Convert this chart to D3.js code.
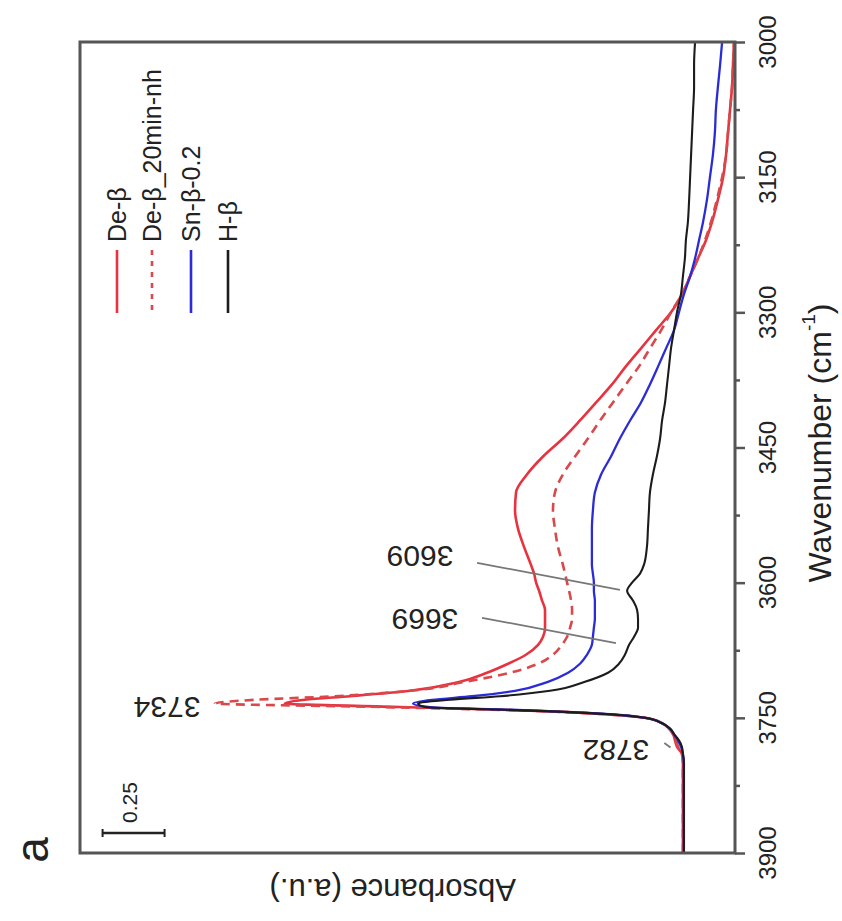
<!DOCTYPE html>
<html>
<head>
<meta charset="utf-8">
<script src="https://cdn.jsdelivr.net/npm/d3@7"></script>
<style>
  body { margin: 0; background: #fff; }
  text { font-family: "Liberation Sans", Arial, sans-serif; fill: #222; }
</style>
</head>
<body>
<div id="chart"></div>
<script>
// wavenumber grid (cm-1), shared by all four spectra
let wavenumbers = [
  3900, 3850, 3800, 3790, 3782, 3775, 3768, 3762, 3756, 3750,
  3746, 3742, 3738, 3734, 3730, 3726, 3720, 3710, 3700, 3690,
  3680, 3669, 3660, 3650, 3640, 3630, 3620, 3609, 3600, 3590,
  3580, 3560, 3540, 3520, 3500, 3480, 3460, 3440, 3420, 3400,
  3380, 3360, 3340, 3320, 3300, 3280, 3260, 3240, 3220, 3200,
  3175, 3150, 3125, 3100, 3075, 3050, 3025, 3000
];

// absorbance (a.u.)
let deBeta = [
  0.210, 0.210, 0.210, 0.214, 0.234, 0.242, 0.250, 0.266, 0.294, 0.363,
  0.524, 0.827, 1.351, 1.815, 1.734, 1.552, 1.310, 1.109, 1.000, 0.915,
  0.843, 0.794, 0.774, 0.766, 0.766, 0.766, 0.778, 0.790, 0.802, 0.810,
  0.823, 0.851, 0.875, 0.887, 0.883, 0.839, 0.774, 0.694, 0.625, 0.560,
  0.496, 0.440, 0.379, 0.319, 0.258, 0.214, 0.181, 0.149, 0.117, 0.093,
  0.069, 0.048, 0.036, 0.028, 0.020, 0.012, 0.008, 0.004
];

let deBeta20 = [
  0.210, 0.210, 0.210, 0.214, 0.230, 0.238, 0.250, 0.266, 0.294, 0.363,
  0.524, 0.847, 1.431, 2.097, 1.935, 1.613, 1.310, 1.089, 0.907, 0.794,
  0.734, 0.698, 0.677, 0.665, 0.657, 0.657, 0.661, 0.669, 0.677, 0.685,
  0.694, 0.714, 0.726, 0.734, 0.726, 0.694, 0.645, 0.593, 0.544, 0.492,
  0.440, 0.387, 0.343, 0.298, 0.258, 0.214, 0.181, 0.149, 0.121, 0.097,
  0.073, 0.052, 0.036, 0.028, 0.020, 0.012, 0.008, 0.004
];

let snBeta = [
  0.206, 0.206, 0.206, 0.210, 0.218, 0.230, 0.246, 0.262, 0.294, 0.363,
  0.504, 0.806, 1.230, 1.298, 1.222, 1.060, 0.887, 0.754, 0.673, 0.625,
  0.597, 0.577, 0.573, 0.569, 0.565, 0.565, 0.565, 0.569, 0.569, 0.573,
  0.577, 0.577, 0.577, 0.573, 0.565, 0.540, 0.500, 0.464, 0.423, 0.379,
  0.343, 0.310, 0.278, 0.246, 0.226, 0.206, 0.181, 0.161, 0.145, 0.129,
  0.113, 0.101, 0.089, 0.081, 0.077, 0.069, 0.060, 0.052
];

let hBeta = [
  0.206, 0.206, 0.206, 0.210, 0.214, 0.226, 0.246, 0.262, 0.294, 0.363,
  0.504, 0.827, 1.250, 1.278, 1.149, 0.948, 0.746, 0.605, 0.512, 0.468,
  0.444, 0.427, 0.407, 0.391, 0.391, 0.395, 0.411, 0.435, 0.415, 0.383,
  0.367, 0.355, 0.351, 0.347, 0.343, 0.331, 0.315, 0.302, 0.294, 0.282,
  0.274, 0.266, 0.258, 0.246, 0.234, 0.218, 0.210, 0.202, 0.198, 0.190,
  0.185, 0.181, 0.177, 0.173, 0.169, 0.165, 0.165, 0.161
];

let seriesNames = ["De-β", "De-β_20min-nh", "Sn-β-0.2", "H-β"];
let majorTicks  = [3900, 3750, 3600, 3450, 3300, 3150, 3000];
let minorTicks  = [3825, 3675, 3525, 3375, 3225, 3075];
let peakNames   = ["3734", "3669", "3609", "3782"];
let scaleBarSize = 0.25;

let margin = {top: 42, right: 107, bottom: 68, left: 80},
    width  = 842 - margin.left - margin.right,
    height = 921 - margin.top - margin.bottom;

let series = [
  {name: seriesNames[0], values: deBeta,   color: "#e8323f", dash: null,  width: 2.6},
  {name: seriesNames[1], values: deBeta20, color: "#d9484a", dash: "9,6", width: 2.6},
  {name: seriesNames[2], values: snBeta,   color: "#2b2bd8", dash: null,  width: 2.3},
  {name: seriesNames[3], values: hBeta,    color: "#1c1c1c", dash: null,  width: 2.1}
];

// absorbance runs right -> left, wavenumber bottom -> top (figure is turned on its side)
let x = d3.scaleLinear().domain([0, 2.641]).range([width, 0]);
let y = d3.scaleLinear().domain([3900, 3000]).range([height, 0]);

let svg =
  d3.select("#chart")
    .append("svg")
      .attr("width", 842)
      .attr("height", 921)
    .append("g")
      .attr("transform", translate(margin.left, margin.top));

// spectra
let line =
  d3.line()
    .x(function(d) { return x(d.a); })
    .y(function(d) { return y(d.w); })
    .curve(d3.curveMonotoneY);

svg.selectAll(".spectrum")
    .data(series)
    .enter()
  .append("path")
    .attr("class", "spectrum")
    .attr("fill", "none")
    .attr("stroke", function(d) { return d.color; })
    .attr("stroke-width", function(d) { return d.width; })
    .attr("stroke-dasharray", function(d) { return d.dash; })
    .attr("stroke-linejoin", "round")
    .attr("d", function(d) {
      return line(wavenumbers.map(function(w, i) { return {w: w, a: d.values[i]}; }));
    });

// frame
svg.append("rect")
    .attr("width", width)
    .attr("height", height)
    .attr("fill", "none")
    .attr("stroke", "#555")
    .attr("stroke-width", 3);

// wavenumber axis on the right
let axisMajor = d3.axisRight(y).tickValues(majorTicks).tickSize(10).tickSizeOuter(0).tickFormat("");
let axisMinor = d3.axisRight(y).tickValues(minorTicks).tickSize(5).tickSizeOuter(0).tickFormat("");

[axisMajor, axisMinor].forEach(function(ax) {
  let g = svg.append("g")
      .attr("transform", translate(width, 0))
      .call(ax);
  g.select(".domain").remove();
  g.selectAll("line").attr("stroke", "#555").attr("stroke-width", 2.5);
});

svg.selectAll(".tick-label")
    .data(majorTicks)
    .enter()
  .append("text")
    .attr("class", "tick-label")
    .attr("transform", function(d) { return translate(width + 32, y(d)) + " rotate(-90)"; })
    .attr("text-anchor", "middle")
    .attr("dominant-baseline", "central")
    .style("font-size", "24px")
    .text(function(d) { return d; });

// axis titles
let xTitle = svg.append("text")
    .attr("transform", translate(width + 85, y(3445)) + " rotate(-90)")
    .attr("text-anchor", "middle")
    .attr("dominant-baseline", "central")
    .style("font-size", "32px");
xTitle.append("tspan").text("Wavenumber (cm");
xTitle.append("tspan").attr("dy", -12).style("font-size", "19px").text("-1");
xTitle.append("tspan").attr("dy", 12).text(")");

svg.append("text")
    .attr("transform", translate(x(1.38), height + 36) + " rotate(180)")
    .attr("text-anchor", "middle")
    .attr("dominant-baseline", "central")
    .style("font-size", "31px")
    .text("Absorbance (a.u.)");

// panel letter
svg.append("text")
    .attr("transform", translate(-48, height - 3) + " rotate(-90)")
    .attr("text-anchor", "middle")
    .attr("dominant-baseline", "central")
    .style("font-size", "46px")
    .text("a");

// legend
let legendX = [37, 72, 111, 148];

let legend =
  svg.selectAll(".legend")
     .data(series)
     .enter()
    .append("g")
     .attr("class", "legend")
     .attr("transform", function(d, i) { return translate(legendX[i], 0); });

legend.append("line")
    .attr("y1", 208)
    .attr("y2", 271)
    .attr("stroke", function(d) { return d.color; })
    .attr("stroke-width", 2.6)
    .attr("stroke-dasharray", function(d) { return d.dash ? "5,6" : null; });

legend.append("text")
    .attr("transform", translate(0, 200) + " rotate(-90)")
    .attr("dominant-baseline", "central")
    .style("font-size", "25px")
    .text(function(d) { return d.name; });

// scale bar
let bar = svg.append("g").attr("transform", translate(0, 791));
bar.append("line")
    .attr("x1", x(2.30)).attr("x2", x(2.30 + scaleBarSize))
    .attr("stroke", "#222").attr("stroke-width", 2.5);
bar.selectAll(".cap")
    .data([2.30, 2.30 + scaleBarSize])
    .enter()
  .append("line")
    .attr("class", "cap")
    .attr("x1", function(d) { return x(d); }).attr("x2", function(d) { return x(d); })
    .attr("y1", -4).attr("y2", 4)
    .attr("stroke", "#222").attr("stroke-width", 2);
bar.append("text")
    .attr("transform", translate(x(2.44), -10) + " rotate(-90)")
    .attr("dominant-baseline", "central")
    .style("font-size", "21px")
    .text(scaleBarSize);

// peak annotations: label position and leader line in data units
let peaks = [
  {label: peakNames[0], w: 3739, a: 2.29, leader: null},
  {label: peakNames[1], w: 3641, a: 1.25, leader: [[3639, 1.02], [3667, 0.48]]},
  {label: peakNames[2], w: 3571, a: 1.27, leader: [[3578, 1.04], [3608, 0.464]]},
  {label: peakNames[3], w: 3786, a: 0.48, leader: [[3778, 0.285], [3783, 0.26]]}
];

svg.selectAll(".leader")
    .data(peaks.filter(function(d) { return d.leader; }))
    .enter()
  .append("line")
    .attr("class", "leader")
    .attr("x1", function(d) { return x(d.leader[0][1]); })
    .attr("y1", function(d) { return y(d.leader[0][0]); })
    .attr("x2", function(d) { return x(d.leader[1][1]); })
    .attr("y2", function(d) { return y(d.leader[1][0]); })
    .attr("stroke", "#777")
    .attr("stroke-width", 1.8);

svg.selectAll(".peak")
    .data(peaks)
    .enter()
  .append("text")
    .attr("class", "peak")
    .attr("transform", function(d) { return translate(x(d.a), y(d.w)) + " rotate(180)"; })
    .attr("text-anchor", "middle")
    .attr("dominant-baseline", "central")
    .style("font-size", "30px")
    .text(function(d) { return d.label; });

function translate(x, y=0) {
  return "translate({x}, {y})"
          .replace("{x}", x)
          .replace("{y}", y);
}
</script>
</body>
</html>
